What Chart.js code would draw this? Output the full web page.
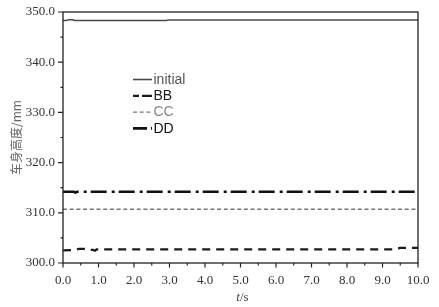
<!DOCTYPE html>
<html><head><meta charset="utf-8">
<script src="https://cdn.jsdelivr.net/npm/chart.js@4/dist/chart.umd.min.js"></script>
<style>html,body{margin:0;padding:0;background:#fff;}#wrap{width:439px;height:307px;}</style>
</head><body><div id="wrap"><canvas id="c" width="439" height="307"></canvas></div>
<script>
// ---- data ----
const seriesNames = ['initial', 'BB', 'CC', 'DD'];
const initialT = [0, 0.1, 0.15, 0.28, 0.32, 0.4, 2.9, 2.97, 10];
const initialH = [348.3, 348.3, 348.45, 348.45, 348.3, 348.3, 348.3, 348.4, 348.4];
const bbT = [0, 0.3, 0.45, 0.6, 0.7, 0.85, 0.9, 0.95, 9.3, 9.5, 10];
const bbH = [302.5, 302.6, 302.8, 302.8, 302.6, 302.6, 302.45, 302.7, 302.7, 303.0, 303.0];
const ccT = [0, 10];
const ccH = [310.7, 310.7];
const ddT = [0, 0.3, 0.35, 0.4, 10];
const ddH = [314.2, 314.2, 314.05, 314.2, 314.2];
const xTickLabels = ['0.0','1.0','2.0','3.0','4.0','5.0','6.0','7.0','8.0','9.0','10.0'];
const yTickLabels = ['300.0','310.0','320.0','330.0','340.0','350.0'];

const pts = (t, h) => t.map((v, i) => ({x: v, y: h[i]}));

const styles = [
  {color: '#4a4a4a', width: 1.6, dash: [], text: '#555'},
  {color: '#1a1a1a', width: 2.2, dash: [8, 6], text: '#1a1a1a'},
  {color: '#777777', width: 1.4, dash: [4, 2.7], text: '#888'},
  {color: '#111111', width: 2.6, dash: [16, 5, 3, 4], text: '#111'}
];
const seriesData = [pts(initialT, initialH), pts(bbT, bbH), pts(ccT, ccH), pts(ddT, ddH)];

const datasets = seriesNames.map((n, i) => ({
  label: n, data: seriesData[i], borderColor: styles[i].color, borderWidth: styles[i].width,
  borderDash: styles[i].dash, pointRadius: 0, tension: 0, fill: false
}));

const framePlugin = {
  id: 'frame',
  afterDraw(chart) {
    const ctx = chart.ctx, a = chart.chartArea;
    const xs = chart.scales.x, ys = chart.scales.y;
    ctx.save();
    ctx.strokeStyle = '#222'; ctx.lineWidth = 1.3;
    ctx.strokeRect(a.left, a.top, a.right - a.left, a.bottom - a.top);
    // ticks
    ctx.lineWidth = 1.2;
    ctx.beginPath();
    xs.ticks.forEach((t, i) => {
      const px = xs.getPixelForValue(t.value);
      const major = Math.abs(t.value - Math.round(t.value)) < 1e-6;
      ctx.moveTo(px, a.bottom); ctx.lineTo(px, a.bottom + (major ? 4.5 : 2.5));
    });
    ys.ticks.forEach((t, i) => {
      const py = ys.getPixelForValue(t.value);
      const major = Math.abs(t.value / 10 - Math.round(t.value / 10)) < 1e-6;
      ctx.moveTo(a.left, py); ctx.lineTo(a.left - (major ? 5 : 2.5), py);
    });
    ctx.stroke();
    // legend
    const lx = 133, ly = 79.5, step = 16.3, len = 19;
    chart.data.datasets.forEach((d, i) => {
      const y = ly + i * step;
      ctx.beginPath();
      ctx.strokeStyle = d.borderColor; ctx.lineWidth = d.borderWidth;
      ctx.setLineDash(i === 3 ? [14, 4, 1.5, 10] : (i === 1 ? [6, 3, 10, 3] : d.borderDash));
      ctx.moveTo(lx, y); ctx.lineTo(lx + len, y); ctx.stroke();
      ctx.setLineDash([]);
      ctx.fillStyle = styles[i].text;
      ctx.font = '14px "Liberation Sans", Arial, sans-serif';
      ctx.textBaseline = 'middle'; ctx.textAlign = 'left';
      ctx.fillText(d.label, lx + len + 1.5, y + 0.5);
    });
    // x title: t/s with italic t
    const cx = (a.left + a.right) / 2 + 2, ty = 298;
    ctx.fillStyle = '#444';
    ctx.textBaseline = 'middle';
    ctx.font = 'italic 13px "Liberation Serif", serif';
    const w1 = ctx.measureText('t').width;
    ctx.font = '13px "Liberation Serif", serif';
    const w2 = ctx.measureText('/s').width;
    const sx = cx - (w1 + w2) / 2;
    ctx.font = 'italic 13px "Liberation Serif", serif';
    ctx.textAlign = 'left';
    ctx.fillText('t', sx, ty);
    ctx.font = '13px "Liberation Serif", serif';
    ctx.fillText('/s', sx + w1, ty);
    ctx.restore();
  }
};

new Chart(document.getElementById('c'), {
  type: 'line',
  data: {datasets},
  options: {
    responsive: false, animation: false, devicePixelRatio: 1,
    layout: {padding: {top: 12, right: 21, left: 0, bottom: 0}},
    plugins: {legend: {display: false}, tooltip: {enabled: false}},
    scales: {
      x: {
        type: 'linear', min: 0, max: 10,
        afterFit: s => { s.height = 44; },
        grid: {display: true, drawOnChartArea: false, drawTicks: true, tickLength: 5, color: 'transparent'},
        border: {display: false},
        ticks: {stepSize: 0.5, autoSkip: false, maxRotation: 0, padding: 5, color: '#333',
          font: {family: '"Liberation Serif", serif', size: 13},
          callback: (v) => { const k = Math.round(v); return Math.abs(v - k) < 1e-6 ? xTickLabels[k] : ''; }}
      },
      y: {
        min: 300, max: 350,
        afterFit: s => { s.width = 63; },
        grid: {display: true, drawOnChartArea: false, drawTicks: true, tickLength: 6, color: 'transparent'},
        border: {display: false},
        ticks: {stepSize: 5, autoSkip: false, padding: 2, color: '#333',
          font: {family: '"Liberation Serif", serif', size: 13},
          callback: (v) => { const k = Math.round((v - 300) / 10); return Math.abs((v - 300) / 10 - k) < 1e-6 ? yTickLabels[k] : ''; }},
        title: {display: true, text: '车身高度/mm', color: '#666',
          font: {family: '"Noto Sans CJK SC", sans-serif', size: 12}, padding: {top: 9, bottom: 0}}
      }
    }
  },
  plugins: [framePlugin]
});
</script></body></html>
